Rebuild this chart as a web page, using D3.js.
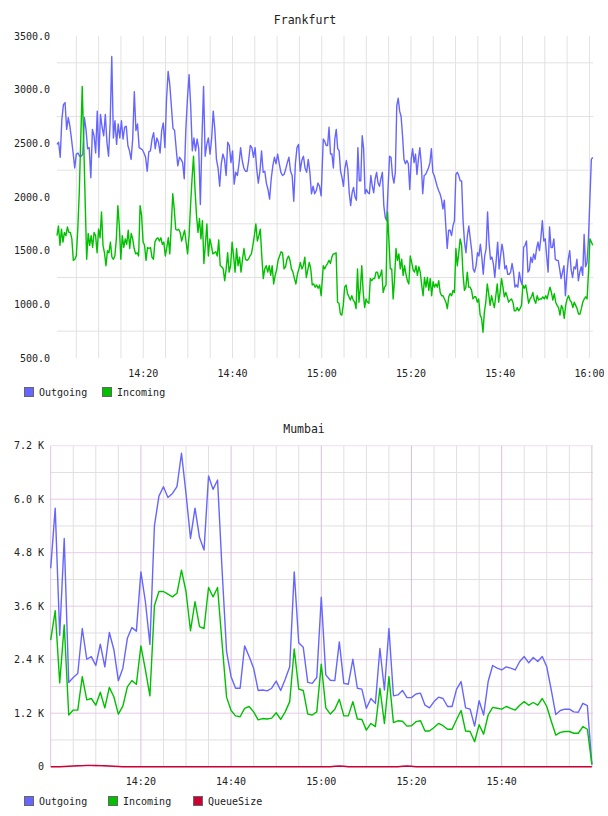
<!DOCTYPE html>
<html>
<head>
<meta charset="utf-8">
<script src="https://cdn.jsdelivr.net/npm/d3@7"></script>
<style>
  body { margin: 0; background: #fff; }
  text { font-family: "DejaVu Sans Mono", monospace; fill: #222; }
</style>
</head>
<body>
<div id="chart"></div>
<script>
// ---- Frankfurt (two halves, points evenly spaced inside each half)
const frankfurtOutgoingA = [
  2490,2510,2370,2720,2860,2880,2630,2740,2660,2540,
  2410,2270,2400,2410,2380,2380,2400,2740,2630,2450,
  2460,2180,2630,2570,2410,2800,2370,2770,2650,2570,
  2770,2510,2380,2690,3310,2550,2710,2490,2680,2550,
  2710,2540,2650,2660,2480,2430,2350,2540,2980,2620,
  2680,2460,2450,2440,2410,2370,2240,2420,2430,2540,
  2600,2450,2550,2510,2410,2620,2690,2460,2910,3170,
  3050,2850,2640,2620,2450,2290,2370,2350,2320,2170,
  2630,2920,3140,2850,2430,2550,2430,2540,2450,1930,
  2540,3030,2380,2490,2550,2400,2540,2800,2630,2350,
  2270,2100,2310,2400,2350,2200,2510,2480,2320,2430,
  2120,2230,2200,2310,2460,2340,2270,2240,2240,2340,
  2480,2460,2370,2460,2260,2130,2240,2430,2230,2240,
  2130,2070,1980,2170,2290,2370,2310,2400,2310,2230,
  2200,2210,2260,2320,2370,2240,2200,1960,2310,2460,
  2490,2240,2340,2380,2270,2230,2350,2230,2030,2100,
  2030,2060,2130,2100,2010
];
const frankfurtOutgoingB = [
  2540,2520,2480,2480,2650,2400,2400,2270,2540,2630,
  2450,2430,2240,2180,2100,2270,2340,2260,2040,1920,
  2040,2090,2000,1970,2460,2150,2150,2570,2450,2030,
  2070,2040,2030,2200,2100,2040,2170,2230,2130,2100,
  2170,2230,1920,1810,1780,2100,2380,2370,2200,2130,
  2230,2850,2920,2800,2750,2570,2350,2310,2340,2310,
  2070,2350,2450,2320,2400,2210,2350,2460,2310,2030,
  2200,2210,2240,2270,2320,2450,2230,2200,2150,2100,
  2060,2030,1980,1890,1970,1730,1520,1690,1690,1640,
  1730,1780,2210,2230,2200,2150,2150,1780,1580,1480,
  1640,1730,1610,1500,1330,1300,1360,1480,1450,1560,
  1440,1280,1450,1520,1860,1580,1420,1440,1380,1250,
  1410,1580,1330,1450,1560,1480,1330,1360,1280,1280,
  1300,1380,1300,1160,1180,1160,1300,1220,1180,1530,
  1550,1590,1300,1320,1440,1390,1470,1420,1520,1580,
  1500,1620,1780,1590,1610,1450,1300,1720,1530,1530,
  1610,1420,1410,1410,1330,1240,1300,1360,1080,1270,
  1420,1500,1320,1250,1350,1330,1420,1220,1300,1350,
  1270,1650,1350,1390,1610,1980,2350,2370
];
const frankfurtIncomingA = [
  1640,1730,1550,1700,1580,1670,1640,1720,1670,1670,
  1610,1410,1420,1450,1700,2040,2540,3030,2510,1950,
  1420,1660,1550,1640,1530,1670,1640,1480,1700,1620,
  1860,1550,1480,1360,1500,1480,1580,1440,1420,1450,
  1610,1920,1730,1420,1640,1530,1610,1560,1690,1520,
  1660,1610,1520,1470,1480,1450,1920,1830,1580,1550,
  1410,1530,1520,1530,1440,1420,1580,1610,1620,1590,
  1620,1560,1580,1450,1530,1620,1470,1730,2030,1890,
  1700,1690,1700,1670,1590,1640,1690,1580,1470,1640,
  1920,2170,2380,2070,1830,1670,1800,1610,1780,1380,
  1560,1750,1450,1610,1550,1470,1480,1490,1450,1600,
  1360,1350,1330,1220,1330,1480,1300,1360,1580,1450,
  1300,1520,1360,1440,1300,1420,1520,1420,1410,1420,
  1450,1470,1550,1640,1750,1590,1640,1700,1450,1240,
  1330,1360,1300,1360,1270,1360,1190,1270,1320,1410,
  1450,1490,1480,1330,1350,1420,1450,1410,1330,1300,
  1240,1190,1280,1330,1390,1330,1360,1440,1250,1320,
  1390,1330,1180,1190,1160,1180,1150,1180,1080
];
const frankfurtIncomingB = [
  1360,1330,1360,1380,1410,1380,1440,1470,1470,1480,
  1020,1010,910,900,990,1160,1180,1100,1070,1040,
  1080,1040,1020,960,1330,1020,1150,1360,1110,970,
  1050,1020,1010,1240,1220,1240,1240,1300,1300,1240,
  1270,1320,1110,1160,1180,1860,1610,1330,1330,1050,
  1240,1520,1410,1470,1330,1420,1270,1360,1280,1220,
  1190,1450,1390,1320,1300,1360,1270,1350,1300,1180,
  1080,1250,1160,1250,1130,1240,1080,1210,1160,1190,
  1160,1220,1110,1080,1080,1050,1020,960,1070,1100,
  1080,1130,1110,1520,1360,1480,1610,1550,1280,1130,
  1160,1300,1160,1160,1130,1050,1070,1070,1020,1050,
  900,870,740,930,1020,1190,1100,990,1080,1020,
  970,1080,1190,1020,1110,1240,1160,1070,1110,1070,
  1020,1040,1050,1020,940,940,970,940,960,990,
  1180,1150,1180,1100,1010,1050,1070,1110,1040,1010,
  1080,1040,1050,1050,1070,1050,1080,1050,1110,1160,
  1110,1040,1100,1020,990,970,900,990,960,870,
  990,1050,1080,1040,1020,970,1020,990,960,910,
  910,960,1020,1050,1070,1050,1300,1610,1580,1550
];
// minutes after 14:00 covered by each half
const frankfurtSpanA = [0.67, 59.87];
const frankfurtSpanB = [60.35, 120.75];
const frankfurtTicks = [500, 1000, 1500, 2000, 2500, 3000, 3500];

// ---- Mumbai, one point a minute from 14:00 to 16:00
const mumbaiOutgoing = [
  4450,5800,2950,5120,1890,2000,2090,3100,2410,2470,
  2270,2750,2240,3010,2630,1930,2210,2880,3120,3040,
  4370,3700,2740,5400,6070,6280,6040,6130,6280,7030,
  6130,5120,5800,5140,4860,6520,6220,6430,4410,2580,
  2020,1760,1760,2710,2470,2210,1710,1720,1700,1760,
  1920,1710,1960,2240,4370,2780,2680,1890,1870,2000,
  3800,2060,1940,1930,2800,1870,1850,2410,1760,1740,
  1310,1530,1420,2650,1720,3100,1590,1610,1710,1550,
  1550,1630,1650,1380,1320,1460,1560,1530,1350,1350,
  1740,1910,1320,1290,910,1480,1160,1910,2270,2210,
  2170,2240,2210,2170,2360,2470,2330,2450,2360,2470,
  2240,1720,1170,1260,1290,1290,1230,1220,1420,1370,
  50
];
const mumbaiIncoming = [
  2840,3500,1880,3180,1160,1270,1270,2020,1500,1530,
  1380,1670,1320,1780,1570,1180,1360,1790,1930,1850,
  2710,2170,1590,3610,3930,3930,3870,3810,3890,4410,
  3930,3050,3700,3140,3100,4020,3810,4020,2770,1560,
  1260,1140,1120,1310,1350,1230,1050,1080,1070,1090,
  1210,1060,1230,1460,2640,1740,1710,1180,1160,1230,
  2300,1320,1180,1290,1510,1140,1140,1460,1070,1060,
  820,970,900,1760,970,2020,990,1030,1020,910,
  920,1010,1030,800,800,880,970,920,840,840,
  1060,1260,800,790,560,940,730,1160,1330,1310,
  1290,1350,1310,1270,1380,1460,1380,1440,1380,1530,
  1350,1020,710,770,790,790,750,750,900,840,
  50
];
const mumbaiQueue = [
  0,0,0,5,10,15,20,25,30,30,
  28,25,20,15,10,5,0,0,0,0,
  0,0,0,0,0,0,0,0,0,0,
  0,0,0,0,0,0,0,0,0,0,
  0,0,0,0,0,0,0,0,0,0,
  0,0,0,0,0,0,0,0,0,0,
  0,0,0,10,15,10,0,0,0,0,
  0,0,0,0,0,0,0,0,10,15,
  10,0,0,0,0,0,0,0,0,0,
  0,0,0,0,0,0,0,0,0,0,
  0,0,0,0,0,0,0,0,0,0,
  0,0,0,0,0,0,0,0,0,0,
  0
];
const mumbaiTicks = [0, 1200, 2400, 3600, 4800, 6000, 7200];

const seriesNames = ["Outgoing", "Incoming", "QueueSize"];
const seriesColors = ["#6666ff", "#00c000", "#cc0033"];

const base = d3.timeParse("%H:%M")("14:00");
const at = m => new Date(base.getTime() + m * 60000);
const fmt = d3.timeFormat("%H:%M");

function spread(values, span) {
  const step = (span[1] - span[0]) / (values.length - 1);
  return values.map((v, i) => ({t: at(span[0] + i * step), v: v}));
}

const svg = d3.select("#chart").append("svg")
    .attr("width", 604)
    .attr("height", 816);

// ================= Frankfurt =================
const x1 = d3.scaleTime().domain([at(0.67), at(120.8)]).range([57, 593]);
const y1 = d3.scaleLinear().domain([500, 3500]).range([358, 36]);

const topChart = svg.append("g");

topChart.append("text")
    .attr("x", 305).attr("y", 24)
    .attr("text-anchor", "middle")
    .style("font-size", "11.5px")
    .text("Frankfurt");

// grid
topChart.selectAll(".hgrid")
    .data(d3.range(750, 3500, 500))
    .enter().append("line")
    .attr("x1", 57).attr("x2", 593)
    .attr("y1", d => y1(d)).attr("y2", d => y1(d))
    .attr("stroke", "#e2e2e2");
topChart.selectAll(".vgrid")
    .data(d3.timeMinute.every(5).range(at(5), at(121)))
    .enter().append("line")
    .attr("x1", d => x1(d)).attr("x2", d => x1(d))
    .attr("y1", 36).attr("y2", 358)
    .attr("stroke", "#e2e2e2");

// y labels
topChart.selectAll(".ylab")
    .data(frankfurtTicks)
    .enter().append("text")
    .attr("x", 50).attr("y", d => y1(d))
    .attr("dy", "0.35em")
    .attr("text-anchor", "end")
    .style("font-size", "10px")
    .text(d => d.toFixed(1));

// x labels
topChart.selectAll(".xlab")
    .data(d3.timeMinute.every(20).range(at(20), at(121)))
    .enter().append("text")
    .attr("x", d => x1(d)).attr("y", 377)
    .attr("text-anchor", "middle")
    .style("font-size", "10px")
    .text(d => fmt(d));

const line1 = d3.line().x(d => x1(d.t)).y(d => y1(d.v));

topChart.append("path")
    .datum(spread(frankfurtOutgoingA, frankfurtSpanA).concat(spread(frankfurtOutgoingB, frankfurtSpanB)))
    .attr("fill", "none")
    .attr("stroke", seriesColors[0])
    .attr("stroke-width", 1.4)
    .attr("stroke-linejoin", "round")
    .attr("d", line1);
topChart.append("path")
    .datum(spread(frankfurtIncomingA, frankfurtSpanA).concat(spread(frankfurtIncomingB, frankfurtSpanB)))
    .attr("fill", "none")
    .attr("stroke", seriesColors[1])
    .attr("stroke-width", 1.4)
    .attr("stroke-linejoin", "round")
    .attr("d", line1);

// legend
const legend1 = topChart.append("g");
[24, 102].forEach((lx, i) => {
  legend1.append("rect")
      .attr("x", lx + 0.5).attr("y", 387.5)
      .attr("width", 9).attr("height", 9)
      .attr("fill", seriesColors[i])
      .attr("stroke", "#666");
  legend1.append("text")
      .attr("x", lx + 15).attr("y", 396)
      .style("font-size", "10px")
      .text(seriesNames[i]);
});

// ================= Mumbai =================
const x2 = d3.scaleTime().domain([at(0), at(120.25)]).range([50.7, 593]);
const y2 = d3.scaleLinear().domain([0, 7200]).range([766.7, 445.7]);

const bottomChart = svg.append("g");

bottomChart.append("text")
    .attr("x", 304).attr("y", 433)
    .attr("text-anchor", "middle")
    .style("font-size", "11.5px")
    .text("Mumbai");

// minor grid
bottomChart.selectAll(".hminor")
    .data(d3.range(600, 7200, 1200))
    .enter().append("line")
    .attr("x1", 50.7).attr("x2", 593)
    .attr("y1", d => y2(d)).attr("y2", d => y2(d))
    .attr("stroke", "#e0e0e0");
const vticks = d3.timeMinute.every(5).range(at(5), at(121));
bottomChart.selectAll(".vminor")
    .data(vticks.filter(d => d.getMinutes() % 20 !== 0))
    .enter().append("line")
    .attr("x1", d => x2(d)).attr("x2", d => x2(d))
    .attr("y1", 445.7).attr("y2", 766.7)
    .attr("stroke", "#e0e0e0");
// major grid
bottomChart.selectAll(".hmajor")
    .data(mumbaiTicks)
    .enter().append("line")
    .attr("x1", 50.7).attr("x2", 593)
    .attr("y1", d => y2(d)).attr("y2", d => y2(d))
    .attr("stroke", d => d === 7200 ? "#f0e0f0" : "#e6cce6");
bottomChart.selectAll(".vmajor")
    .data(vticks.filter(d => d.getMinutes() % 20 === 0))
    .enter().append("line")
    .attr("x1", d => x2(d)).attr("x2", d => x2(d))
    .attr("y1", 445.7).attr("y2", 766.7)
    .attr("stroke", "#dcc0dc");
bottomChart.append("line")
    .attr("x1", 50.7).attr("x2", 50.7)
    .attr("y1", 445.7).attr("y2", 766.7)
    .attr("stroke", "#e0c6e0");

// y labels
bottomChart.selectAll(".ylab")
    .data(mumbaiTicks)
    .enter().append("text")
    .attr("x", 44).attr("y", d => y2(d))
    .attr("dy", "0.35em")
    .attr("text-anchor", "end")
    .style("font-size", "10px")
    .text(d => d === 0 ? "0" : (d / 1000).toFixed(1) + " K");

// x labels (16:00 falls off the edge and is not shown)
bottomChart.selectAll(".xlab")
    .data(d3.timeMinute.every(20).range(at(20), at(101)))
    .enter().append("text")
    .attr("x", d => x2(d)).attr("y", 785)
    .attr("text-anchor", "middle")
    .style("font-size", "10px")
    .text(d => fmt(d));

const line2 = d3.line().x(d => x2(d.t)).y(d => y2(d.v));
[mumbaiOutgoing, mumbaiIncoming, mumbaiQueue].forEach((vals, k) => {
  bottomChart.append("path")
      .datum(vals.map((v, i) => ({t: at(i), v: v})))
      .attr("fill", "none")
      .attr("stroke", seriesColors[k])
      .attr("stroke-width", 1.4)
      .attr("stroke-linejoin", "round")
      .attr("d", line2);
});

// legend
const legend2 = bottomChart.append("g");
[24, 108, 193].forEach((lx, i) => {
  legend2.append("rect")
      .attr("x", lx + 0.5).attr("y", 796.5)
      .attr("width", 9).attr("height", 9)
      .attr("fill", seriesColors[i])
      .attr("stroke", "#666");
  legend2.append("text")
      .attr("x", lx + 15).attr("y", 805)
      .style("font-size", "10px")
      .text(seriesNames[i]);
});
</script>
</body>
</html>
